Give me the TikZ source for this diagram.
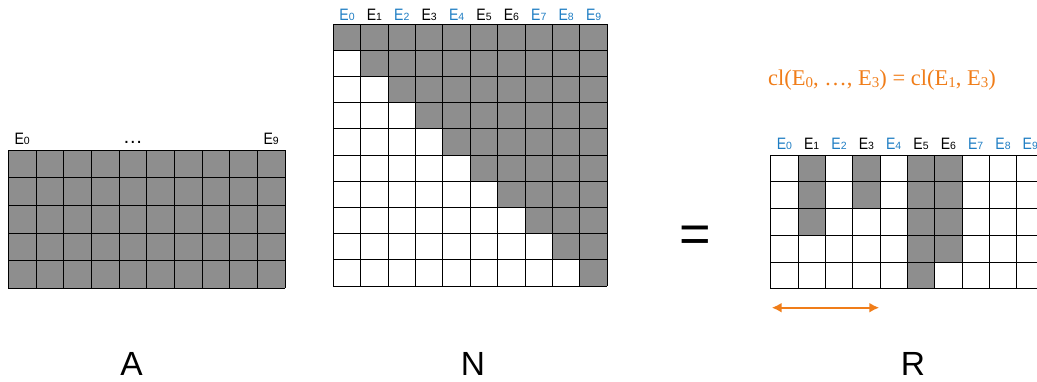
\documentclass[tikz,border=0pt]{standalone}
\usepackage{fontspec}
\usepackage{graphicx}
\setmainfont{Liberation Sans}
\newfontfamily\formulafont{Liberation Serif}
\usetikzlibrary{arrows.meta}

\definecolor{cellgrey}{RGB}{142,142,142}
\definecolor{labelblue}{RGB}{30,125,195}
\definecolor{accent}{RGB}{240,125,25}

% column label: condensed E with a small index
\newcommand\elab[1]{\scalebox{0.85}[1]{E}{\fontsize{10.5}{10.5}\selectfont #1}}
% index for the closure formula
\newcommand\fsub[1]{\raisebox{-2pt}{\fontsize{15}{15}\selectfont #1}}

\tikzset{
  cellfill/.style={fill=cellgrey},
  gridline/.style={draw=black, line width=0.9pt},
  collabel/.style={inner sep=0pt, anchor=base, font=\fontsize{16.5}{16.5}\selectfont},
  bigletter/.style={inner sep=0pt, anchor=base, font=\fontsize{33.5}{33.5}\selectfont},
  span/.style={draw=accent, line width=2.4pt,
    {Latex[length=10pt,width=10pt]}-{Latex[length=10pt,width=10pt]}},
}

\begin{document}
\begin{tikzpicture}[x=1pt, y=-1pt]
\useasboundingbox (0,0) rectangle (1037,381);
\clip (0,0) rectangle (1037,381);

% ---------- matrix A : 5 x 10, fully occupied ----------
\begin{scope}[shift={(8.3,150)}, x=27.67pt, y=-27.67pt]
  \foreach \r in {0,...,4}
    \foreach \c in {0,...,9}
      \fill[cellfill] (\c,\r) rectangle (\c+1,\r+1);
  \foreach \c in {0,...,10} \draw[gridline] (\c,0) -- (\c,5);
  \foreach \r in {0,...,5} \draw[gridline] (0,\r) -- (10,\r);
  \node[collabel] (aE0) at (0.5,-0.21) {\elab{0}};
  \node[collabel] (aDots) at (4.5,-0.24) {\fontsize{20}{20}\selectfont …};
  \node[collabel] (aE9) at (9.5,-0.21) {\elab{9}};
\end{scope}

% ---------- matrix N : 10 x 10, upper triangle occupied ----------
\begin{scope}[shift={(333.3,24)}, x=27.4pt, y=-26.2pt]
  \foreach \r in {0,...,9}
    \foreach \c in {\r,...,9}
      \fill[cellfill] (\c,\r) rectangle (\c+1,\r+1);
  \foreach \c in {0,...,10} \draw[gridline] (\c,0) -- (\c,10);
  \foreach \r in {0,...,10} \draw[gridline] (0,\r) -- (10,\r);
  \foreach \c/\col in {0/labelblue,1/black,2/labelblue,3/black,4/labelblue,
                       5/black,6/black,7/labelblue,8/labelblue,9/labelblue}
    \node[collabel, text=\col] (nE\c) at (\c+0.5,-0.13) {\elab{\c}};
\end{scope}

% ---------- equals sign ----------
\node[inner sep=0pt, anchor=base, font=\fontsize{54}{54}\selectfont] (eq) at (695,252) {=};

% ---------- matrix R : 5 x 10, selected columns ----------
\begin{scope}[shift={(770.7,155)}, x=27.33pt, y=-26.74pt]
  \foreach \c/\h in {1/3,3/2,5/5,6/4}
    \fill[cellfill] (\c,0) rectangle (\c+1,\h);
  \foreach \c in {0,...,10} \draw[gridline] (\c,0) -- (\c,5);
  \foreach \r in {0,...,5} \draw[gridline] (0,\r) -- (10,\r);
  \foreach \c/\col in {0/labelblue,1/black,2/labelblue,3/black,4/labelblue,
                       5/black,6/black,7/labelblue,8/labelblue,9/labelblue}
    \node[collabel, text=\col] (rE\c) at (\c+0.5,-0.22) {\elab{\c}};
\end{scope}

% closure relation above R
\node[inner sep=0pt, anchor=base, text=accent,
      font=\formulafont\fontsize{22.5}{22.5}\selectfont] (cl) at (882,85.7)
  {cl(E\fsub{0}, …, E\fsub{3}) = cl(E\fsub{1}, E\fsub{3})};

% span of the first four columns
\coordinate (spanL) at (771.7,307.7);
\coordinate (spanR) at (879.3,307.7);
\draw[span] (spanL) -- (spanR);

% ---------- matrix names ----------
\node[bigletter] (nameA) at (131.5,375.5) {A};
\node[bigletter] (nameN) at (473,375.5) {N};
\node[bigletter] (nameR) at (913,375.5) {R};
\end{tikzpicture}
\end{document}
